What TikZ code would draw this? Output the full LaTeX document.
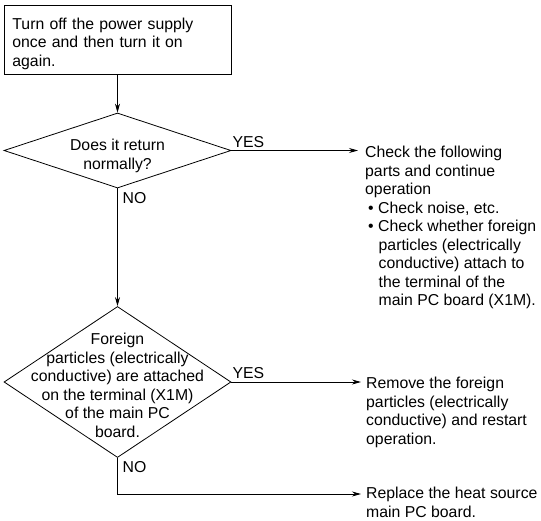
\documentclass[tikz,border=0pt]{standalone}
\usepackage{fontspec}
\setmainfont{Liberation Sans}
\usetikzlibrary{shapes.geometric,arrows.meta}
\begin{document}
\begin{tikzpicture}[x=1pt,y=-1pt,
  every node/.style={font=\fontsize{15.8}{18.5}\selectfont},
  line/.style={line width=0.8pt, draw=black},
  arr/.style={line, -{Stealth[length=9pt,width=5pt]}},
  stepbox/.style={draw, line width=0.8pt, anchor=north west, inner sep=0pt, minimum width=227pt, minimum height=69pt},
  decision/.style={draw, line width=0.8pt, diamond, inner sep=0pt, minimum width=227pt},
  note/.style={anchor=north west, inner sep=0pt, align=left},
  tag/.style={inner sep=0pt}
]
\useasboundingbox (0,0) rectangle (541,520);

\node[stepbox,
  label={[align=left, text width=211pt, inner sep=0pt, yshift=-4pt]center:Turn off the power supply\\once and then turn it on\\again.}] (box) at (4,5) {};

\node[decision, minimum height=75pt,
  label={[align=center, inner sep=0pt, yshift=-5.5pt]center:Does it return\\normally?}] (d1) at (117.5,150.5) {};

\node[decision, minimum height=151pt,
  label={[align=center, inner sep=0pt, yshift=-3.5pt]center:Foreign\\particles (electrically\\conductive) are attached\\on the terminal (X1M)\\of the main PC\\board.}] (d2) at (117.5,382) {};

\node[note] (r1) at (365,146) {Check the following\\parts and continue\\operation\\
\hspace*{3pt}\textbullet\hspace{4.5pt}Check noise, etc.\\
\hspace*{3pt}\textbullet\hspace{4.5pt}Check whether foreign\\
\hspace*{13.5pt}particles (electrically\\
\hspace*{13.5pt}conductive) attach to\\
\hspace*{13.5pt}the terminal of the\\
\hspace*{13.5pt}main PC board (X1M).};

\node[note] (r2) at (366,377) {Remove the foreign\\particles (electrically\\conductive) and restart\\operation.};

\node[note] (r3) at (366,487) {Replace the heat source\\main PC board.};

\coordinate (t1) at (358,150.5);
\coordinate (t2) at (361,382);
\coordinate (c3) at (117.5,494);
\coordinate (t3) at (361,494);

\draw[arr] (box.south -| d1.north) -- (d1.north);
\draw[arr] (d1.east) -- (t1);
\draw[arr] (d1.south) -- (d2.north);
\draw[arr] (d2.east) -- (t2);
\draw[arr] (d2.south) -- (c3) -- (t3);

\node[tag, anchor=south west] (y1) at ([xshift=1pt,yshift=3pt]d1.east) {YES};
\node[tag, anchor=north west] (n1) at ([xshift=5pt,yshift=-4pt]d1.south) {NO};
\node[tag, anchor=south west] (y2) at ([xshift=1pt,yshift=3pt]d2.east) {YES};
\node[tag, anchor=north west] (n2) at ([xshift=5pt,yshift=-3pt]d2.south) {NO};
\end{tikzpicture}
\end{document}
